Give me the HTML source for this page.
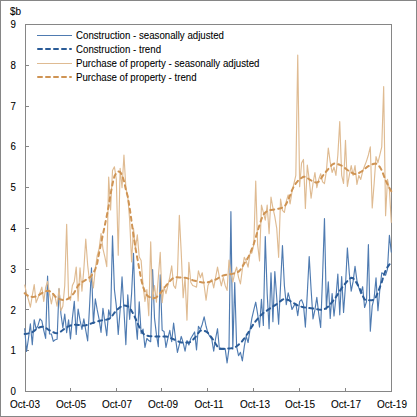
<!DOCTYPE html>
<html><head><meta charset="utf-8"><style>
html,body{margin:0;padding:0;background:#fff;}
#c{position:relative;width:417px;height:417px;overflow:hidden;background:#fff;font-family:"Liberation Sans",sans-serif;font-size:9.7px;color:#000;-webkit-text-stroke:0.08px #000;}
#c svg{position:absolute;left:0;top:0;}
.yl{position:absolute;left:0;width:16px;text-align:right;line-height:12px;height:12px;font-size:10px;transform:scaleX(0.97);transform-origin:16.3px 0;}
.xl{position:absolute;top:398px;width:40px;text-align:center;line-height:12px;font-size:10.5px;transform:scaleX(0.95);}
.lg{position:absolute;left:75.5px;line-height:12px;white-space:nowrap;font-size:10.5px;transform:scaleX(0.922);transform-origin:0 0;}
</style></head><body><div id="c">
<svg width="417" height="417" viewBox="0 0 417 417">
<rect x="0.5" y="0.5" width="416" height="416" fill="none" stroke="#868686" stroke-width="1"/>
<rect x="25.5" y="24.5" width="366" height="367" fill="none" stroke="#868686" stroke-width="1"/>
<g stroke="#868686" stroke-width="1"><line x1="25" y1="350.5" x2="29" y2="350.5" /><line x1="25" y1="309.5" x2="29" y2="309.5" /><line x1="25" y1="269.5" x2="29" y2="269.5" /><line x1="25" y1="228.5" x2="29" y2="228.5" /><line x1="25" y1="187.5" x2="29" y2="187.5" /><line x1="25" y1="146.5" x2="29" y2="146.5" /><line x1="25" y1="106.5" x2="29" y2="106.5" /><line x1="25" y1="65.5" x2="29" y2="65.5" /><line x1="70.5" y1="388" x2="70.5" y2="391" /><line x1="116.5" y1="388" x2="116.5" y2="391" /><line x1="161.5" y1="388" x2="161.5" y2="391" /><line x1="207.5" y1="388" x2="207.5" y2="391" /><line x1="253.5" y1="388" x2="253.5" y2="391" /><line x1="299.5" y1="388" x2="299.5" y2="391" /><line x1="345.5" y1="388" x2="345.5" y2="391" /></g>
<g fill="none" stroke-linejoin="round">
<path d="M24.65,328.29 L26.56,351.54 L28.47,338.49 L30.38,323.81 L32.29,344.60 L34.20,319.73 L36.11,329.11 L38.02,325.44 L39.93,318.91 L41.84,320.95 L43.75,330.33 L45.66,338.49 L47.57,276.09 L49.48,334.00 L51.39,334.00 L53.30,341.34 L55.21,339.71 L57.11,339.30 L59.02,288.73 L60.93,314.02 L62.84,327.68 L64.75,314.02 L66.66,332.78 L68.57,319.73 L70.48,338.89 L72.39,318.10 L74.30,301.38 L76.21,334.41 L78.12,309.12 L80.03,320.13 L81.94,329.51 L83.85,318.91 L85.76,330.33 L87.67,340.93 L89.58,305.86 L91.49,267.94 L93.40,323.40 L95.31,298.93 L97.22,309.94 L99.13,319.32 L101.04,332.37 L102.95,308.31 L104.86,322.17 L106.77,335.63 L108.68,309.94 L110.59,318.10 L112.50,235.72 L114.41,289.55 L116.32,305.86 L118.23,334.41 L120.13,309.94 L122.04,276.91 L123.95,309.94 L125.86,344.60 L127.77,294.85 L129.68,319.32 L131.59,293.63 L133.50,253.26 L135.41,318.10 L137.32,339.30 L139.23,301.78 L141.14,333.59 L143.05,329.11 L144.96,347.46 L146.87,338.49 L148.78,340.52 L150.69,341.75 L152.60,269.57 L154.51,318.10 L156.42,334.41 L158.33,346.64 L160.24,274.87 L162.15,330.33 L164.06,331.55 L165.97,347.46 L167.88,338.49 L169.79,330.33 L171.70,341.75 L173.61,322.99 L175.52,338.49 L177.43,352.35 L179.34,344.60 L181.25,336.45 L183.16,342.56 L185.06,351.13 L186.97,340.52 L188.88,345.01 L190.79,338.49 L192.70,335.22 L194.61,331.96 L196.52,349.90 L198.43,326.25 L200.34,329.51 L202.25,324.21 L204.16,316.87 L206.07,326.25 L207.98,333.18 L209.89,336.45 L211.80,339.30 L213.71,351.13 L215.62,338.49 L217.53,328.70 L219.44,349.50 L221.35,349.50 L223.26,349.50 L225.17,348.68 L227.08,362.95 L228.99,348.68 L230.90,211.66 L232.81,349.09 L234.72,282.62 L236.63,346.64 L238.54,355.61 L240.45,352.35 L242.36,360.92 L244.27,346.64 L246.18,336.04 L248.08,342.56 L249.99,329.92 L251.90,318.10 L253.81,309.94 L255.72,302.19 L257.63,314.02 L259.54,327.07 L261.45,299.34 L263.36,325.44 L265.27,236.54 L267.18,293.63 L269.09,328.70 L271.00,272.83 L272.91,321.77 L274.82,271.61 L276.73,297.71 L278.64,324.21 L280.55,285.47 L282.46,245.51 L284.37,285.47 L286.28,304.64 L288.19,292.81 L290.10,300.15 L292.01,309.53 L293.92,305.86 L295.83,303.42 L297.74,315.65 L299.65,301.38 L301.56,299.75 L303.47,304.64 L305.38,327.07 L307.29,293.63 L309.20,256.52 L311.10,289.55 L313.01,318.91 L314.92,309.94 L316.83,297.30 L318.74,314.02 L320.65,327.48 L322.56,277.32 L324.47,218.59 L326.38,309.12 L328.29,281.80 L330.20,318.50 L332.11,293.63 L334.02,316.06 L335.93,297.71 L337.84,274.05 L339.75,314.83 L341.66,276.50 L343.57,312.39 L345.48,285.47 L347.39,247.95 L349.30,273.24 L351.21,291.18 L353.12,281.39 L355.03,266.31 L356.94,280.58 L358.85,287.92 L360.76,293.63 L362.67,286.70 L364.58,307.49 L366.49,301.78 L368.40,244.69 L370.31,331.15 L372.22,305.86 L374.13,298.11 L376.03,277.72 L377.94,310.76 L379.85,289.55 L381.76,272.83 L383.67,274.05 L385.58,275.28 L387.49,269.16 L389.40,235.31 L391.31,252.44" stroke="#4f7bb1" stroke-width="1.15"/>
<path d="M24.65,334.00 L26.56,333.81 L28.47,333.39 L30.38,332.82 L32.29,332.13 L34.20,330.89 L36.11,329.34 L38.02,327.99 L39.93,327.24 L41.84,326.76 L43.75,326.76 L45.66,327.71 L47.57,329.12 L49.48,330.33 L51.39,331.30 L53.30,332.27 L55.21,332.98 L57.11,333.17 L59.02,332.62 L60.93,331.48 L62.84,330.03 L64.75,328.53 L66.66,327.23 L68.57,326.34 L70.48,325.51 L72.39,324.85 L74.30,324.62 L76.21,324.71 L78.12,324.90 L80.03,325.13 L81.94,325.33 L83.85,325.43 L85.76,325.28 L87.67,324.75 L89.58,324.06 L91.49,323.40 L93.40,322.78 L95.31,322.13 L97.22,321.50 L99.13,320.95 L101.04,320.55 L102.95,320.24 L104.86,319.94 L106.77,319.57 L108.68,319.04 L110.59,317.84 L112.50,315.48 L114.41,312.76 L116.32,310.51 L118.23,308.84 L120.13,307.20 L122.04,305.95 L123.95,305.45 L125.86,305.69 L127.77,306.27 L129.68,307.96 L131.59,310.90 L133.50,314.13 L135.41,318.25 L137.32,322.80 L139.23,326.99 L141.14,330.29 L143.05,333.36 L144.96,335.16 L146.87,335.61 L148.78,335.96 L150.69,336.21 L152.60,336.37 L154.51,336.44 L156.42,336.45 L158.33,336.45 L160.24,336.45 L162.15,336.45 L164.06,336.45 L165.97,336.49 L167.88,336.95 L169.79,337.71 L171.70,338.53 L173.61,339.26 L175.52,340.14 L177.43,341.07 L179.34,341.89 L181.25,342.44 L183.16,342.56 L185.06,342.56 L186.97,342.56 L188.88,342.56 L190.79,341.82 L192.70,340.07 L194.61,338.04 L196.52,335.75 L198.43,332.83 L200.34,330.67 L202.25,330.39 L204.16,330.80 L206.07,331.48 L207.98,332.83 L209.89,335.22 L211.80,337.90 L213.71,340.53 L215.62,343.79 L217.53,346.82 L219.44,348.57 L221.35,348.68 L223.26,348.65 L225.17,348.61 L227.08,348.55 L228.99,348.46 L230.90,348.36 L232.81,348.20 L234.72,347.49 L236.63,346.25 L238.54,344.73 L240.45,343.10 L242.36,340.97 L244.27,338.40 L246.18,335.65 L248.08,332.88 L249.99,329.80 L251.90,326.61 L253.81,323.63 L255.72,321.10 L257.63,318.76 L259.54,316.62 L261.45,314.71 L263.36,313.07 L265.27,311.65 L267.18,310.37 L269.09,309.10 L271.00,307.81 L272.91,306.55 L274.82,305.31 L276.73,304.07 L278.64,302.68 L280.55,301.07 L282.46,299.67 L284.37,298.95 L286.28,299.17 L288.19,299.97 L290.10,300.99 L292.01,302.00 L293.92,303.26 L295.83,304.47 L297.74,305.36 L299.65,306.10 L301.56,306.74 L303.47,307.26 L305.38,307.62 L307.29,307.90 L309.20,308.11 L311.10,308.31 L313.01,308.52 L314.92,308.77 L316.83,309.15 L318.74,309.56 L320.65,309.86 L322.56,309.89 L324.47,309.19 L326.38,308.00 L328.29,306.58 L330.20,304.54 L332.11,302.16 L334.02,299.75 L335.93,297.04 L337.84,294.12 L339.75,291.12 L341.66,288.21 L343.57,285.53 L345.48,283.23 L347.39,281.07 L349.30,279.01 L351.21,277.80 L353.12,278.24 L355.03,280.40 L356.94,283.56 L358.85,286.96 L360.76,290.74 L362.67,295.76 L364.58,299.55 L366.49,300.15 L368.40,300.15 L370.31,300.15 L372.22,300.15 L374.13,299.61 L376.03,296.74 L377.94,292.31 L379.85,287.36 L381.76,282.18 L383.67,275.60 L385.58,270.38 L387.49,267.08 L389.40,264.46 L391.31,263.04" stroke="#2a5b97" stroke-width="2" stroke-dasharray="4 4" stroke-linecap="round"/>
<path d="M24.65,284.66 L26.56,293.63 L28.47,299.75 L30.38,307.09 L32.29,295.67 L34.20,284.66 L36.11,302.60 L38.02,297.71 L39.93,292.81 L41.84,287.10 L43.75,301.38 L45.66,287.51 L47.57,281.39 L49.48,293.63 L51.39,303.82 L53.30,293.63 L55.21,297.71 L57.11,306.27 L59.02,288.33 L60.93,310.76 L62.84,306.27 L64.75,285.47 L66.66,224.30 L68.57,297.30 L70.48,300.15 L72.39,285.47 L74.30,281.39 L76.21,267.12 L78.12,300.97 L80.03,267.94 L81.94,291.18 L83.85,269.16 L85.76,238.98 L87.67,265.08 L89.58,281.80 L91.49,273.24 L93.40,287.92 L95.31,269.16 L97.22,255.70 L99.13,248.77 L101.04,233.68 L102.95,248.77 L104.86,256.93 L106.77,266.71 L108.68,177.00 L110.59,210.03 L112.50,170.47 L114.41,166.80 L116.32,179.44 L118.23,255.29 L120.13,168.43 L122.04,187.60 L123.95,154.98 L125.86,187.60 L127.77,196.57 L129.68,220.22 L131.59,261.82 L133.50,228.38 L135.41,248.77 L137.32,234.90 L139.23,256.93 L141.14,260.60 L143.05,285.47 L144.96,301.38 L146.87,289.55 L148.78,315.65 L150.69,241.84 L152.60,299.75 L154.51,285.47 L156.42,302.19 L158.33,277.32 L160.24,252.44 L162.15,302.60 L164.06,286.70 L165.97,293.63 L167.88,285.47 L169.79,277.32 L171.70,265.90 L173.61,285.47 L175.52,288.33 L177.43,275.28 L179.34,215.33 L181.25,252.85 L183.16,297.71 L185.06,277.72 L186.97,320.13 L188.88,262.23 L190.79,282.21 L192.70,285.47 L194.61,286.29 L196.52,287.10 L198.43,270.79 L200.34,277.72 L202.25,272.83 L204.16,285.47 L206.07,300.15 L207.98,285.47 L209.89,281.39 L211.80,279.36 L213.71,287.92 L215.62,277.32 L217.53,267.12 L219.44,277.32 L221.35,285.88 L223.26,277.32 L225.17,285.47 L227.08,290.37 L228.99,260.19 L230.90,273.24 L232.81,282.21 L234.72,273.24 L236.63,267.12 L238.54,277.32 L240.45,283.84 L242.36,269.16 L244.27,257.33 L246.18,261.00 L248.08,267.12 L249.99,253.66 L251.90,252.85 L253.81,244.69 L255.72,181.08 L257.63,244.69 L259.54,261.00 L261.45,205.14 L263.36,212.48 L265.27,220.22 L267.18,205.14 L269.09,233.68 L271.00,196.98 L272.91,207.99 L274.82,216.55 L276.73,228.38 L278.64,257.33 L280.55,199.02 L282.46,210.44 L284.37,212.48 L286.28,201.47 L288.19,194.94 L290.10,203.91 L292.01,191.68 L293.92,183.52 L295.83,175.37 L297.74,55.06 L299.65,186.78 L301.56,163.13 L303.47,159.46 L305.38,208.40 L307.29,165.17 L309.20,179.44 L311.10,198.20 L313.01,183.52 L314.92,172.51 L316.83,187.60 L318.74,179.44 L320.65,173.73 L322.56,181.89 L324.47,183.52 L326.38,171.29 L328.29,148.04 L330.20,161.91 L332.11,172.51 L334.02,167.21 L335.93,175.37 L337.84,154.98 L339.75,121.54 L341.66,175.37 L343.57,183.52 L345.48,140.30 L347.39,186.38 L349.30,175.37 L351.21,165.58 L353.12,175.37 L355.03,165.58 L356.94,184.34 L358.85,175.37 L360.76,179.44 L362.67,171.29 L364.58,165.99 L366.49,161.09 L368.40,154.98 L370.31,146.82 L372.22,207.99 L374.13,183.52 L376.03,156.61 L377.94,162.72 L379.85,154.98 L381.76,146.82 L383.67,86.47 L385.58,215.74 L387.49,179.44 L389.40,189.64 L391.31,222.67" stroke="#dfbb92" stroke-width="1.15"/>
<path d="M24.65,293.22 L26.56,294.80 L28.47,296.03 L30.38,296.76 L32.29,296.88 L34.20,296.76 L36.11,296.54 L38.02,295.76 L39.93,294.28 L41.84,293.10 L43.75,292.08 L45.66,291.26 L47.57,290.78 L49.48,291.11 L51.39,292.00 L53.30,294.11 L55.21,296.48 L57.11,297.85 L59.02,298.90 L60.93,299.57 L62.84,300.05 L64.75,300.08 L66.66,299.45 L68.57,298.51 L70.48,296.97 L72.39,294.91 L74.30,292.56 L76.21,289.12 L78.12,285.49 L80.03,283.42 L81.94,282.16 L83.85,281.11 L85.76,279.91 L87.67,278.72 L89.58,277.42 L91.49,275.68 L93.40,273.04 L95.31,269.11 L97.22,263.27 L99.13,252.85 L101.04,243.58 L102.95,234.38 L104.86,225.24 L106.77,215.94 L108.68,205.83 L110.59,193.83 L112.50,184.05 L114.41,176.27 L116.32,172.98 L118.23,171.45 L120.13,171.93 L122.04,175.01 L123.95,180.94 L125.86,189.50 L127.77,196.76 L129.68,207.92 L131.59,221.55 L133.50,235.54 L135.41,247.60 L137.32,258.34 L139.23,268.62 L141.14,279.19 L143.05,286.57 L144.96,291.60 L146.87,295.22 L148.78,296.74 L150.69,297.47 L152.60,297.94 L154.51,298.11 L156.42,297.31 L158.33,295.42 L160.24,293.22 L162.15,291.00 L164.06,288.35 L165.97,285.77 L167.88,283.59 L169.79,281.31 L171.70,279.21 L173.61,277.74 L175.52,277.32 L177.43,277.34 L179.34,277.40 L181.25,277.48 L183.16,277.59 L185.06,277.72 L186.97,278.11 L188.88,278.82 L190.79,279.61 L192.70,280.22 L194.61,280.72 L196.52,281.22 L198.43,281.70 L200.34,282.11 L202.25,282.42 L204.16,282.59 L206.07,282.57 L207.98,282.26 L209.89,281.71 L211.80,281.02 L213.71,280.27 L215.62,279.53 L217.53,278.54 L219.44,277.38 L221.35,276.28 L223.26,275.44 L225.17,275.00 L227.08,274.70 L228.99,274.45 L230.90,274.13 L232.81,273.72 L234.72,273.23 L236.63,272.60 L238.54,271.71 L240.45,269.76 L242.36,266.51 L244.27,263.41 L246.18,260.64 L248.08,257.57 L249.99,253.71 L251.90,248.99 L253.81,243.74 L255.72,237.54 L257.63,230.98 L259.54,225.01 L261.45,219.03 L263.36,214.62 L265.27,212.52 L267.18,211.09 L269.09,210.33 L271.00,209.95 L272.91,209.70 L274.82,209.45 L276.73,209.10 L278.64,208.73 L280.55,208.29 L282.46,207.68 L284.37,206.60 L286.28,203.85 L288.19,200.24 L290.10,195.49 L292.01,190.10 L293.92,186.31 L295.83,183.41 L297.74,181.05 L299.65,179.29 L301.56,177.80 L303.47,176.75 L305.38,176.76 L307.29,177.84 L309.20,179.31 L311.10,180.44 L313.01,181.43 L314.92,182.29 L316.83,182.70 L318.74,181.71 L320.65,179.08 L322.56,176.12 L324.47,173.68 L326.38,171.24 L328.29,169.04 L330.20,166.79 L332.11,164.70 L334.02,163.58 L335.93,163.68 L337.84,164.15 L339.75,164.81 L341.66,165.62 L343.57,166.93 L345.48,168.50 L347.39,169.98 L349.30,171.18 L351.21,172.44 L353.12,173.51 L355.03,174.10 L356.94,173.94 L358.85,173.12 L360.76,171.98 L362.67,170.78 L364.58,169.15 L366.49,167.44 L368.40,166.20 L370.31,165.20 L372.22,164.31 L374.13,163.71 L376.03,163.58 L377.94,164.77 L379.85,167.02 L381.76,170.14 L383.67,175.25 L385.58,180.26 L387.49,184.26 L389.40,187.95 L391.31,191.27" stroke="#cf9454" stroke-width="2" stroke-dasharray="4 4" stroke-linecap="round"/>
</g>
<g fill="none">
<line x1="37" y1="35.5" x2="72" y2="35.5" stroke="#4f7bb1" stroke-width="1"/>
<line x1="38" y1="49" x2="71" y2="49" stroke="#2a5b97" stroke-width="2" stroke-dasharray="4 4" stroke-linecap="round"/>
<line x1="37" y1="63.5" x2="72" y2="63.5" stroke="#dfbb92" stroke-width="1"/>
<line x1="38" y1="77" x2="71" y2="77" stroke="#cf9454" stroke-width="2" stroke-dasharray="4 4" stroke-linecap="round"/>
</g>
</svg>
<div style="position:absolute;left:10px;top:4.5px;line-height:12px;font-size:10.5px;transform:scaleX(0.95);transform-origin:0 0">$b</div>
<div class="yl" style="top:386.1px">0</div><div class="yl" style="top:345.3px">1</div><div class="yl" style="top:304.5px">2</div><div class="yl" style="top:263.8px">3</div><div class="yl" style="top:223.0px">4</div><div class="yl" style="top:182.2px">5</div><div class="yl" style="top:141.4px">6</div><div class="yl" style="top:100.6px">7</div><div class="yl" style="top:59.9px">8</div><div class="yl" style="top:19.1px">9</div>
<div class="xl" style="left:5.4px">Oct-03</div><div class="xl" style="left:51.2px">Oct-05</div><div class="xl" style="left:97.1px">Oct-07</div><div class="xl" style="left:142.9px">Oct-09</div><div class="xl" style="left:188.7px">Oct-11</div><div class="xl" style="left:234.6px">Oct-13</div><div class="xl" style="left:280.4px">Oct-15</div><div class="xl" style="left:326.2px">Oct-17</div><div class="xl" style="left:372.1px">Oct-19</div>
<div class="lg" style="top:29px">Construction - seasonally adjusted</div>
<div class="lg" style="top:43px">Construction - trend</div>
<div class="lg" style="top:57px">Purchase of property - seasonally adjusted</div>
<div class="lg" style="top:71px">Purchase of property - trend</div>
</div></body></html>
